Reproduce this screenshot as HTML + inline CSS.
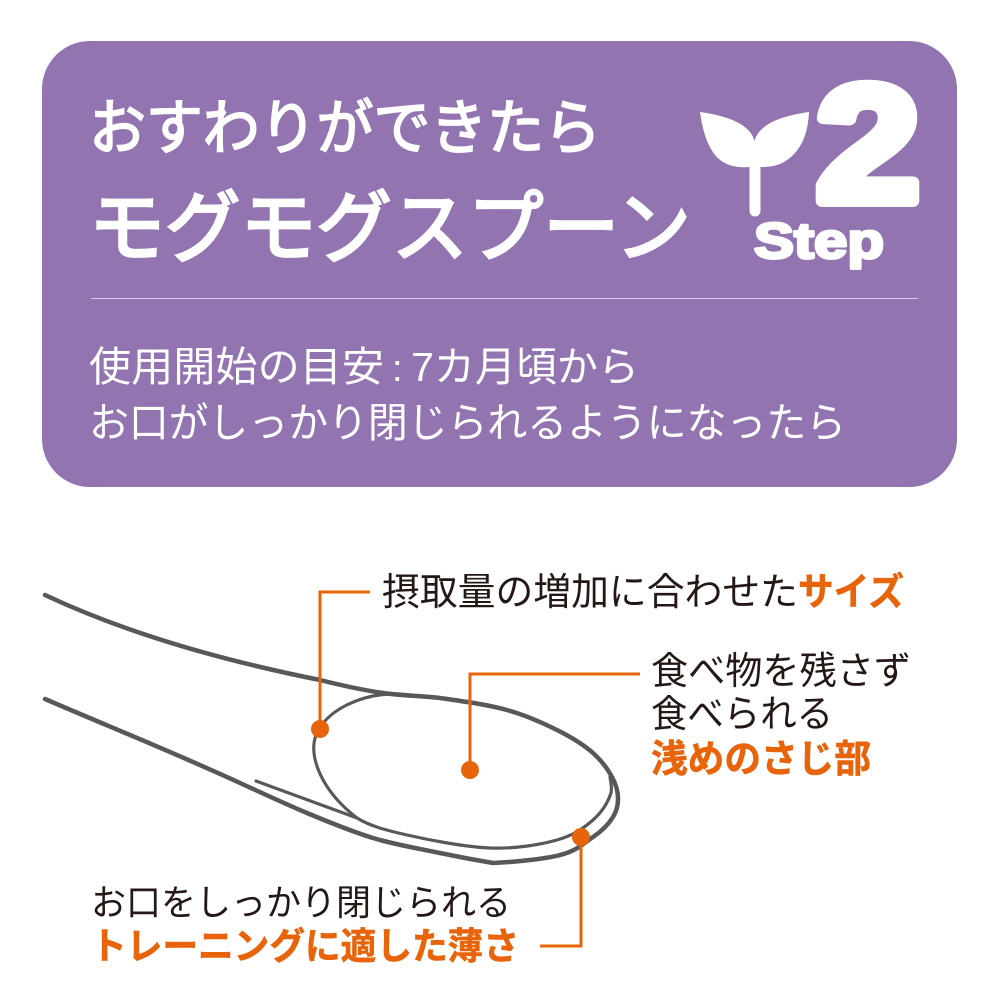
<!DOCTYPE html>
<html><head><meta charset="utf-8">
<style>
html,body{margin:0;padding:0;background:#fff}
svg{display:block}
text{font-family:"Liberation Sans","Noto Sans CJK JP",sans-serif}
.w{fill:#fff}.k{fill:#231815}.o{fill:#e8640a;font-weight:700}
</style></head><body>
<svg width="1000" height="1000" viewBox="0 0 1000 1000" xmlns="http://www.w3.org/2000/svg">
<rect x="42" y="41" width="915" height="446" rx="48" fill="#9274b0"/>
<text class="w" x="89" y="149" font-size="60" stroke="#fff" stroke-width="1.9" textLength="512" lengthAdjust="spacingAndGlyphs">おすわりができたら</text>
<text class="w" x="89" y="255" font-size="78" stroke="#fff" stroke-width="2.8" textLength="602" lengthAdjust="spacingAndGlyphs">モグモグスプーン</text>
<path d="M700 112C728 116 750 124 754.5 141C759 124 781 116 809 112C808 135 800 155 780 164C772 167 766 167 760.5 167L760.5 211A5.5 5.5 0 0 1 749.5 211L749.5 167C740 168 725 167 715 155C705 142 702 125 700 112Z" fill="#fff"/>
<text x="816" y="201" font-size="165" font-weight="700" fill="#fff" stroke="#fff" stroke-width="12" stroke-linejoin="round" style="font-family:'Liberation Sans',sans-serif" textLength="104" lengthAdjust="spacingAndGlyphs">2</text>
<text x="754" y="258" font-size="50" font-weight="700" fill="#fff" stroke="#fff" stroke-width="3" stroke-linejoin="round" style="font-family:'Liberation Sans',sans-serif" textLength="130" lengthAdjust="spacingAndGlyphs">Step</text>
<line x1="91" y1="298.5" x2="918" y2="298.5" stroke="#d6cce3" stroke-width="1"/>
<text class="w" x="89" y="381" font-size="41" textLength="295" lengthAdjust="spacingAndGlyphs">使用開始の目安</text>
<text class="w" x="392" y="381" font-size="38">:</text>
<text class="w" x="411" y="381" font-size="41" textLength="228" lengthAdjust="spacingAndGlyphs">7カ月頃から</text>
<text class="w" x="89" y="437" font-size="41" textLength="757" lengthAdjust="spacingAndGlyphs">お口がしっかり閉じられるようになったら</text>

<g fill="none" stroke="#595757" stroke-linecap="round" stroke-linejoin="round">
<path stroke-width="4.5" d="M45 595C130 635 230 662 320 680C340 685 362 690 383 693C405 696 428 696 447 699C468 702 489 705 507 710C525 715 543 723 557 730C571 737 584 745 593 753C602 761 608 769.5 612 777C616 784.5 618 791 618 798C618.2 805 617 810.5 613 817C609 823.5 602 831 593 837C584 843 577 851 560 855C545 859 515 862 493 863C478 860.5 460 857.2 440 853C420 848.8 395 844.7 373 838C351 831.3 329 822.2 307 813C285 803.8 262 793 240 783C175 753 110 727 45 699"/>
<path stroke-width="3.2" d="M398 694C362 693 326 710 316 735C308 757 322 791 357 818C370 826 385 830 407 835C429 840 465 847 490 848C515 849 540 844.7 557 840C574 835.3 584 827.8 593 820C602 812 608 802 611 793C612 788 611 782 610 777"/>
<path stroke-width="3.2" d="M256 781L357 818"/>
</g>
<g fill="none" stroke="#e8640a" stroke-width="3">
<path d="M370 592H320V728"/>
<path d="M640 674H470V770"/>
<path d="M581 837V946H540"/>
</g>
<g fill="#e8640a">
<circle cx="320" cy="729" r="9"/>
<circle cx="470" cy="770" r="9"/>
<circle cx="581" cy="837" r="9"/>
</g>
<text class="k" x="382" y="605" font-size="38" textLength="416" lengthAdjust="spacingAndGlyphs">摂取量の増加に合わせた</text>
<text class="o" x="798" y="605" font-size="38" stroke="#e8640a" stroke-width=".6" textLength="106" lengthAdjust="spacingAndGlyphs">サイズ</text>
<text class="k" x="651" y="684" font-size="38" textLength="260" lengthAdjust="spacingAndGlyphs">食べ物を残さず</text>
<text class="k" x="651" y="727" font-size="38" textLength="182" lengthAdjust="spacingAndGlyphs">食べられる</text>
<text class="o" x="651" y="772" font-size="38" stroke="#e8640a" stroke-width=".6" textLength="220" lengthAdjust="spacingAndGlyphs">浅めのさじ部</text>
<text class="k" x="91" y="915" font-size="36" textLength="420" lengthAdjust="spacingAndGlyphs">お口をしっかり閉じられる</text>
<text class="o" x="91" y="959" font-size="37" stroke="#e8640a" stroke-width=".6" textLength="428" lengthAdjust="spacingAndGlyphs">トレーニングに適した薄さ</text>
</svg>
</body></html>
